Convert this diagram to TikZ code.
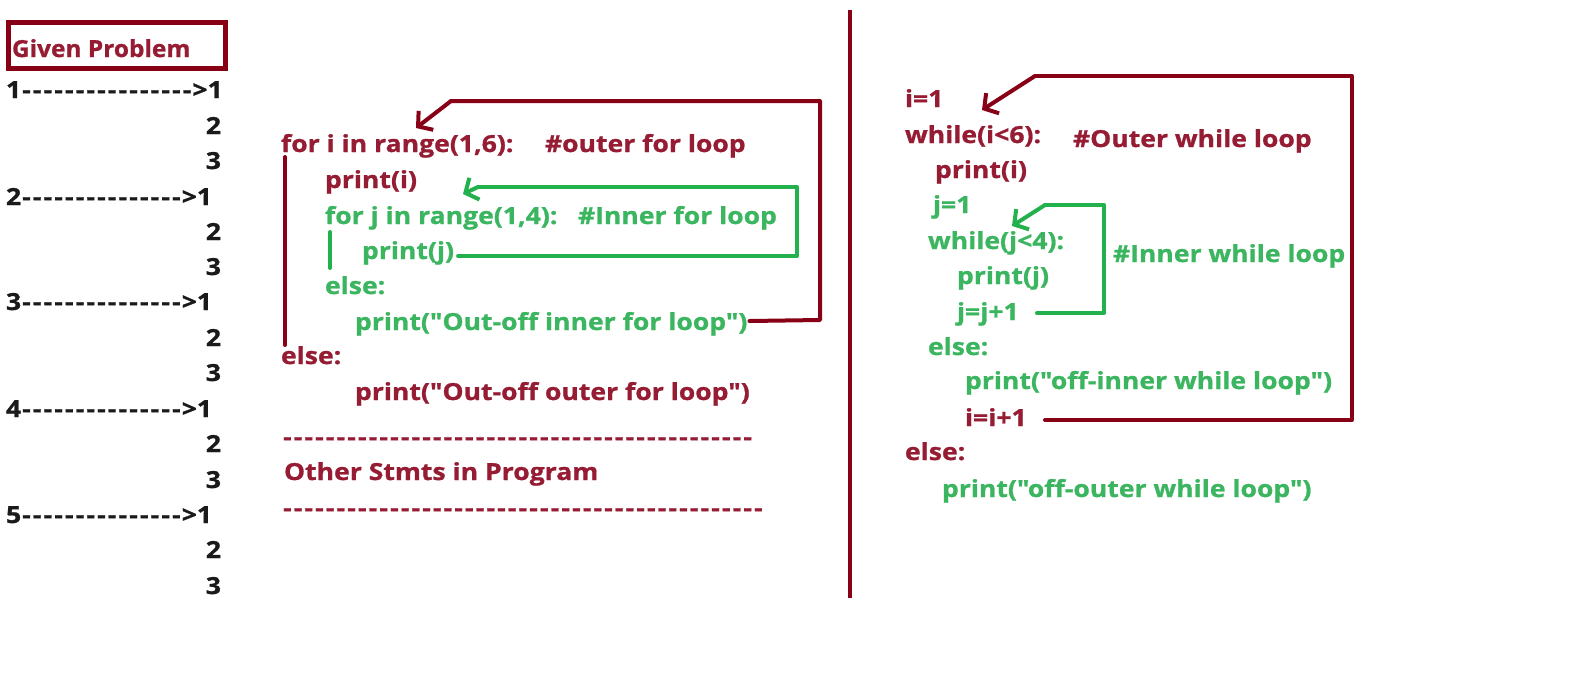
\documentclass[tikz,border=0pt]{standalone}
\usepackage{fontspec}
\newfontfamily\codefont{Open Sans}[BoldFont={* Bold}, FakeStretch=1.13, BoldFeatures={FakeBold=1.0}]
\newfontfamily\headfont{Open Sans}[BoldFont={* Bold}, FakeStretch=1.04, BoldFeatures={FakeBold=1.0}]
\usetikzlibrary{arrows.meta}
\definecolor{txtred}{HTML}{951C33}
\definecolor{linered}{HTML}{880015}
\definecolor{txtgreen}{HTML}{3BB55F}
\definecolor{linegreen}{HTML}{22B14C}
\definecolor{txtblack}{HTML}{1A1A1A}
% a run of evenly spaced hyphens
\newcommand\dashrun[1]{\foreach\k in {1,...,#1}{\makebox[10.7pt]{-}}}
\begin{document}
\begin{tikzpicture}[x=1pt,y=-1pt,
  code/.style={inner sep=0pt, outer sep=0pt, anchor=base west,
    font=\codefont\bfseries\fontsize{23.5}{28}\selectfont},
  rtext/.style={code, text=txtred},
  gtext/.style={code, text=txtgreen},
  ktext/.style={code, text=txtblack},
  kright/.style={code, anchor=base east, text=txtblack},
  rline/.style={draw=linered, line width=4pt, line cap=round, line join=round},
  gline/.style={draw=linegreen, line width=4pt, line cap=round, line join=round},
  barb/.style={-{Straight Barb[length=10pt,width=24pt,line width=4pt]}}]
\useasboundingbox (0,0) rectangle (1572,697);

% ---- heading box ----
\node[rtext, font=\headfont\bfseries\fontsize{23.5}{28}\selectfont] (given) at (12,57) {Given Problem};
\draw[draw=linered, line width=5pt] (8,22) rectangle (225,68);

% ---- expected output column ----
\node[ktext] (o1) at (6,98)  {1\dashrun{16}>1};
\node[kright] (o12) at (221,134) {2};
\node[kright] (o13) at (221,169) {3};
\node[ktext] (o2) at (6,205) {2\dashrun{15}>1};
\node[kright] (o22) at (221,240) {2};
\node[kright] (o23) at (221,275) {3};
\node[ktext] (o3) at (6,310) {3\dashrun{15}>1};
\node[kright] (o32) at (221,346) {2};
\node[kright] (o33) at (221,381) {3};
\node[ktext] (o4) at (6,417) {4\dashrun{15}>1};
\node[kright] (o42) at (221,452) {2};
\node[kright] (o43) at (221,488) {3};
\node[ktext] (o5) at (6,523) {5\dashrun{15}>1};
\node[kright] (o52) at (221,558) {2};
\node[kright] (o53) at (221,594) {3};

% ---- nested for loops ----
\node[rtext] (fori) at (281,152) {for i in range(1,6):};
\node[rtext] (fori c) at (545,152) {\#outer for loop};
\node[rtext] (pi) at (325,188) {print(i)};
\node[gtext] (forj) at (325,224) {for j in range(1,4):};
\node[gtext] (forj c) at (578,224) {\#Inner for loop};
\node[gtext] (pj) at (362,259) {print(j)};
\node[gtext] (else1) at (325,294) {else:};
\node[gtext] (pin) at (355,330) {print("Out-off inner for loop")};
\node[rtext] (else2) at (281,364) {else:};
\node[rtext] (pout) at (355,400) {print("Out-off outer for loop")};
\node[rtext] (sep1) at (282,445) {\dashrun{44}};
\node[rtext] (other) at (284,480) {Other Stmts in Program};
\node[rtext] (sep2) at (282,516) {\dashrun{45}};

% block bars
\coordinate (ob top) at (285,157);
\coordinate (ob bot) at (285,345);
\draw[rline] (ob top) -- (ob bot);
\coordinate (ib top) at (330,232);
\coordinate (ib bot) at (330,268);
\draw[gline] (ib top) -- (ib bot);

% inner for loop back edge
\coordinate (gf1) at (797,256);
\coordinate (gf2) at (797,187);
\coordinate (gf3) at (478,187);
\coordinate (gf tip) at (463,194);
\draw[gline] ([xshift=4pt]pj.east |- 0,256) -- (gf1) -- (gf2) -- (gf3);
\draw[gline,barb] (gf3) -- (gf tip);

% outer for loop back edge
\coordinate (rf1) at (820,320);
\coordinate (rf2) at (820,101);
\coordinate (rf3) at (451,101);
\coordinate (rf tip) at (416,128);
\draw[rline] ([xshift=2pt]pin.east |- 0,321) -- (rf1) -- (rf2) -- (rf3);
\draw[rline,barb] (rf3) -- (rf tip);

% ---- divider ----
\coordinate (div top) at (850,10);
\coordinate (div bot) at (850,598);
\draw[rline, line cap=butt] (div top) -- (div bot);

% ---- nested while loops ----
\node[rtext] (i1) at (905,107) {i=1};
\node[rtext] (whi) at (905,143) {while(i<6):};
\node[rtext] (whi c) at (1073,147) {\#Outer while loop};
\node[rtext] (wpi) at (935,178) {print(i)};
\node[gtext] (j1) at (933,213) {j=1};
\node[gtext] (whj) at (928,249) {while(j<4):};
\node[gtext] (whj c) at (1113,262) {\#Inner while loop};
\node[gtext] (wpj) at (957,284) {print(j)};
\node[gtext] (jinc) at (957,320) {j=j+1};
\node[gtext] (welse1) at (928,355) {else:};
\node[gtext] (wpin) at (965,389) {print("off-inner while loop")};
\node[rtext] (iinc) at (965,426) {i=i+1};
\node[rtext] (welse2) at (905,460) {else:};
\node[gtext] (wpout) at (942,497) {print("off-outer while loop")};

% inner while back edge
\coordinate (gw0) at (1037,313);
\coordinate (gw1) at (1104,313);
\coordinate (gw2) at (1104,205);
\coordinate (gw3) at (1045,205);
\coordinate (gw tip) at (1012,226);
\draw[gline] (gw0) -- (gw1) -- (gw2) -- (gw3);
\draw[gline,barb] (gw3) -- (gw tip);

% outer while back edge
\coordinate (rw0) at (1045,420);
\coordinate (rw1) at (1352,420);
\coordinate (rw2) at (1352,76);
\coordinate (rw3) at (1035,76);
\coordinate (rw tip) at (982,110);
\draw[rline] (rw0) -- (rw1) -- (rw2) -- (rw3);
\draw[rline,barb] (rw3) -- (rw tip);
\end{tikzpicture}
\end{document}
